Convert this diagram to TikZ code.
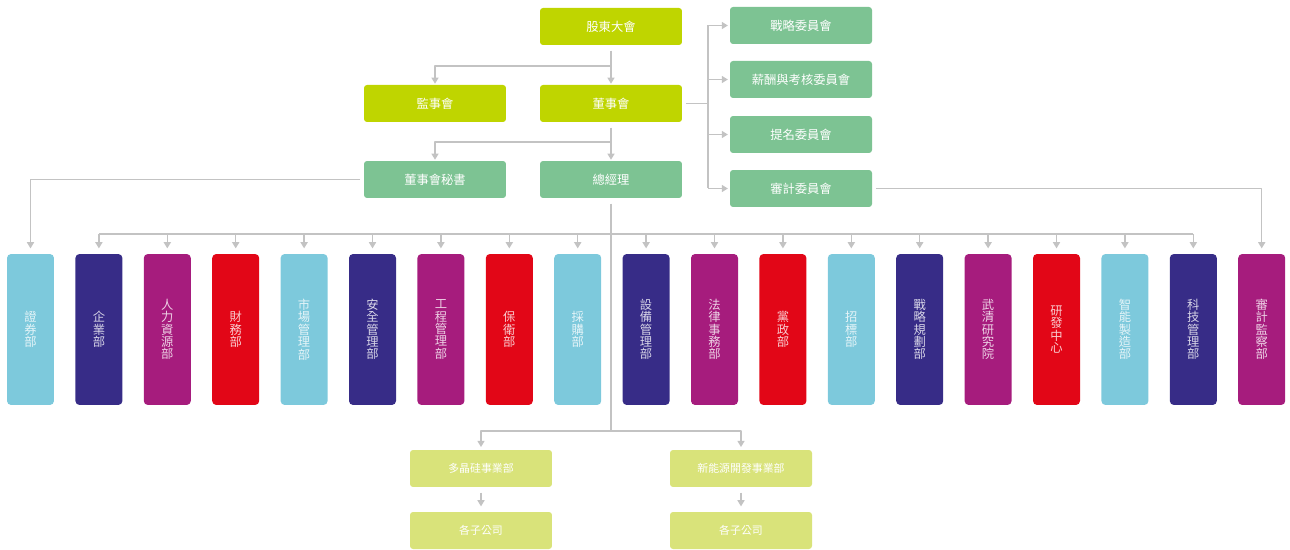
\documentclass[tikz,border=0pt]{standalone}
\usepackage{fontspec}
\setmainfont{Noto Sans CJK TC}
\usetikzlibrary{arrows.meta}
\definecolor{cLime}{HTML}{BFD500}
\definecolor{cMint}{HTML}{7DC393}
\definecolor{cPale}{HTML}{D9E37A}
\definecolor{cCyan}{HTML}{7DC9DC}
\definecolor{cNavy}{HTML}{372C87}
\definecolor{cMag}{HTML}{A61C7D}
\definecolor{cRed}{HTML}{E20617}
\definecolor{cLine}{HTML}{C3C3C3}
\begin{document}
\begin{tikzpicture}[x=0.02cm,y=-0.02cm,line join=round,
	conn/.style={draw=cLine,line width=.8pt},
	arr/.style={conn,-{Triangle[width=4pt,length=3.5pt]}},
	topbox/.style={rounded corners=1.7pt,minimum width=2.84cm,minimum height=.74cm,inner sep=0pt,text=white,font=\fontsize{7}{8}\selectfont},
	subbox/.style={topbox,fill=cPale,font=\fontsize{6.2}{7}\selectfont},
	dept/.style={rounded corners=2.3pt,minimum width=.94cm,minimum height=3.02cm,inner sep=0pt,align=center,text=white,text opacity=.8,font=\fontsize{7}{7.05}\selectfont}]
	\useasboundingbox (0,0) rectangle (1290,550);
	% top levels
	\node[topbox,fill=cLime] (gdh) at (611,26.5) {股東大會};
	\node[topbox,fill=cLime] (jsh) at (435,103.5) {監事會};
	\node[topbox,fill=cLime] (dsh) at (611,103.5) {董事會};
	\node[topbox,fill=cMint] (mish) at (435,179.5) {董事會秘書};
	\node[topbox,fill=cMint] (zjl) at (611,179.5) {總經理};
	\node[topbox,fill=cMint] (wy1) at (801,25.5) {戰略委員會};
	\node[topbox,fill=cMint] (wy2) at (801,79.5) {薪酬與考核委員會};
	\node[topbox,fill=cMint] (wy3) at (801,134.5) {提名委員會};
	\node[topbox,fill=cMint] (wy4) at (801,188.5) {審計委員會};
	% departments
	\foreach \i/\col/\txt in {0/cCyan/{證\\券\\部},1/cNavy/{企\\業\\部},2/cMag/{人\\力\\資\\源\\部},3/cRed/{財\\務\\部},
		4/cCyan/{市\\場\\管\\理\\部},5/cNavy/{安\\全\\管\\理\\部},6/cMag/{工\\程\\管\\理\\部},7/cRed/{保\\衛\\部},
		8/cCyan/{採\\購\\部},9/cNavy/{設\\備\\管\\理\\部},10/cMag/{法\\律\\事\\務\\部},11/cRed/{黨\\政\\部},
		12/cCyan/{招\\標\\部},13/cNavy/{戰\\略\\規\\劃\\部},14/cMag/{武\\清\\研\\究\\院},15/cRed/{研\\發\\中\\心},
		16/cCyan/{智\\能\\製\\造\\部},17/cNavy/{科\\技\\管\\理\\部},18/cMag/{審\\計\\監\\察\\部}}
		\node[dept,fill=\col] (d\i) at (30.5+68.4*\i,329.5) {\txt};
	% business units
	\node[subbox] (dj) at (481,468.5) {多晶硅事業部};
	\node[subbox] (xny) at (741,468.5) {新能源開發事業部};
	\node[subbox] (zgs1) at (481,530.5) {各子公司};
	\node[subbox] (zgs2) at (741,530.5) {各子公司};
	% connectors
	\path (611,66) coordinate (b1)
		(611,142) coordinate (b2)
		(708,103.5) coordinate (b3)
		(611,234) coordinate (b4)
		(611,431) coordinate (b5);
	\draw[arr,shorten <=3pt,shorten >=.5pt] (gdh.south) -- (dsh.north);
	\draw[arr,shorten >=.5pt] (b1) -| (jsh.north);
	\draw[arr,shorten <=3pt,shorten >=.5pt] (dsh.south) -- (zjl.north);
	\draw[arr,shorten >=.5pt] (b2) -| (mish.north);
	\draw[conn,shorten <=2pt] (dsh.east) -- (b3);
	\draw[conn] (b3 |- wy1) -- (b3 |- wy4);
	\foreach \k in {1,...,4}
		\draw[arr,shorten >=1pt] (b3 |- wy\k) -- (wy\k.west);
	\draw[arr,shorten <=2pt,shorten >=3pt] (mish.west) -| (d0.north);
	\draw[arr,shorten <=2pt,shorten >=3pt] (wy4.east) -| (d18.north);
	\draw[conn,shorten <=3pt] (zjl.south) -- (b5);
	\draw[conn] (b4 -| d1) -- (b4 -| d17);
	\foreach \i in {1,...,17}
		\draw[arr,shorten >=3pt] (b4 -| d\i) -- (d\i.north);
	\draw[arr,shorten >=1.5pt] (b5) -| (dj.north);
	\draw[arr,shorten >=1.5pt] (b5) -| (xny.north);
	\draw[arr,shorten <=3pt,shorten >=3pt] (dj) -- (zgs1);
	\draw[arr,shorten <=3pt,shorten >=3pt] (xny) -- (zgs2);
\end{tikzpicture}
\end{document}
